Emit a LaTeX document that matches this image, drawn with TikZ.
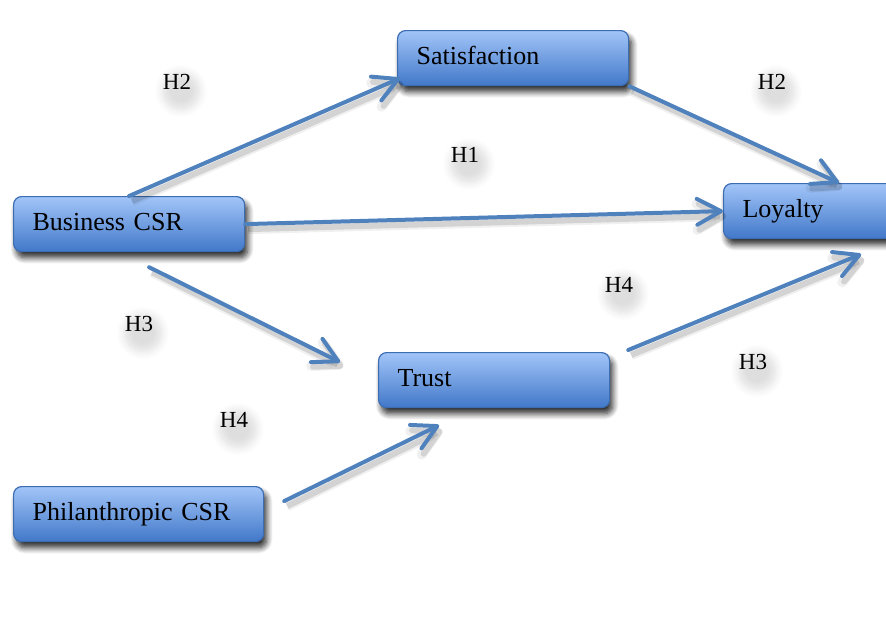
\documentclass[tikz,border=0pt]{standalone}
\usepackage{fontspec}
\setmainfont{Liberation Serif}
\usetikzlibrary{positioning,shadows,shadows.blur,arrows.meta}
\definecolor{boxtop}{HTML}{A2C5F8}
\definecolor{boxbot}{HTML}{4178C9}
\definecolor{boxline}{HTML}{3C6DB3}
\definecolor{linkblue}{HTML}{4F81BD}

\begin{document}
\begin{tikzpicture}[x=1pt, y=-1pt, >={Straight Barb[length=24pt,width=26pt,round]},
  box/.style={draw=boxline, line width=1.2pt, rounded corners=8pt,
    top color=boxtop, bottom color=boxbot, anchor=north west,
    minimum height=55pt, text width=193pt, inner xsep=19pt, align=left,
    text height=19pt, text depth=7pt, font=\fontsize{26}{30}\selectfont,
    blur shadow={shadow xshift=3pt, shadow yshift=-6pt, shadow blur radius=6pt,
      shadow blur steps=8, shadow opacity=85}},
  hyp/.style={circle, font=\fontsize{23}{26}\selectfont, inner sep=2pt,
    blur shadow={shadow xshift=4pt, shadow yshift=-9pt, shadow blur radius=8pt,
      shadow blur steps=8, shadow opacity=13}},
  link/.style={->, draw=linkblue, line width=4pt, line cap=round,
    preaction={draw=black, opacity=.06, line width=10pt, transform canvas={shift={(3pt,-5pt)}}},
    preaction={draw=black, opacity=.12, line width=6pt, transform canvas={shift={(3pt,-5pt)}}}}]
  \useasboundingbox (0,0) rectangle (886,635);

  \node[box] (sat) at (397,30) {Satisfaction};
  \node[box] (loy) at (723,183) {Loyalty};
  \node[box] (bcsr) at (13,196) {Business CSR};
  \node[box] (trust) at (378,352) {Trust};
  \node[box, text width=212pt] (phil) at (13,486) {Philanthropic CSR};

  % hypothesis labels
  \node[hyp] (h2l) at (177,82) {H2};
  \node[hyp] (h2r) at (772,82) {H2};
  \node[hyp] (h1) at (465,155) {H1};
  \node[hyp] (h4r) at (619,285) {H4};
  \node[hyp] (h3l) at (139,324) {H3};
  \node[hyp] (h3r) at (753,362) {H3};
  \node[hyp] (h4l) at (234,420) {H4};

  \coordinate (trustin) at ([shift={(-38,-18)}]trust.west);

  \draw[link] (bcsr.north) -- ([shift={(3,-8)}]sat.south west);
  \draw[link] (sat.south east) -- (loy.north);
  \draw[link] (bcsr.east) -- (loy.west);
  \draw[link] ([shift={(20,15)}]bcsr.south) -- (trustin);
  \draw[link] ([shift={(18,-2)}]trust.north east) -- ([shift={(22,15)}]loy.south);
  \draw[link] ([shift={(20,-13)}]phil.east) -- ([shift={(-55,17)}]trust.south);
\end{tikzpicture}
\end{document}
